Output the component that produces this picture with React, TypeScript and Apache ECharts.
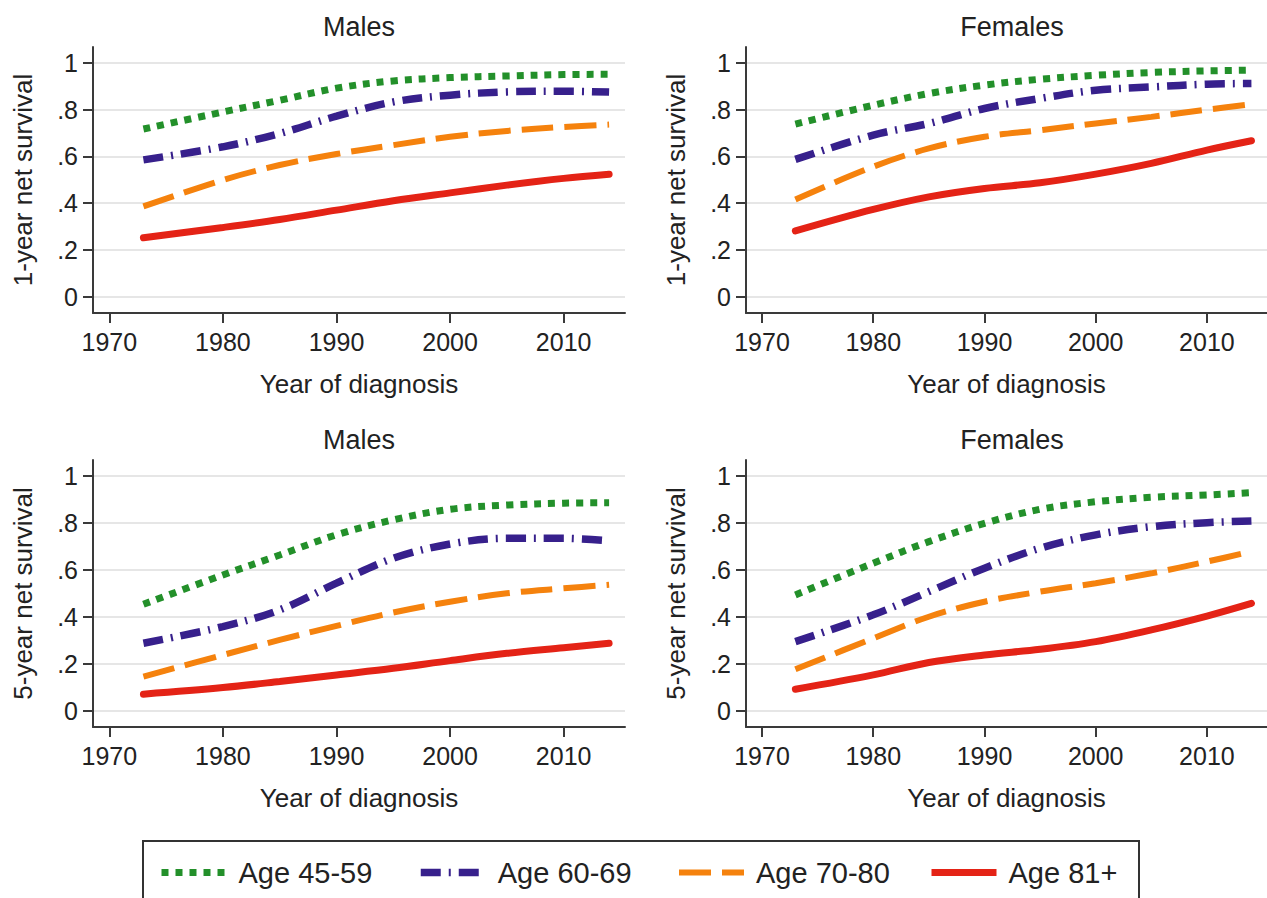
import React, { useEffect, useRef } from "react";
import * as echarts from "echarts";

const FONT = "'Liberation Sans', Arial, Helvetica, sans-serif";
const TEXT = "#222222";
const AXIS = "#3a3a3a";

const years = [1973, 1980, 1985, 1990, 1995, 2000, 2005, 2010, 2014];
const xTicks = [1970, 1980, 1990, 2000, 2010];
const yTicks = [0, 0.2, 0.4, 0.6, 0.8, 1];
const yTickLabels = ["0", ".2", ".4", ".6", ".8", "1"];

const groupNames = ["Age 45-59", "Age 60-69", "Age 70-80", "Age 81+"];
const panelTitles = ["Males", "Females", "Males", "Females"];
const yNames = ["1-year net survival", "1-year net survival", "5-year net survival", "5-year net survival"];

// Males, 1-year
const m1_4559 = [0.717, 0.79, 0.84, 0.892, 0.923, 0.937, 0.944, 0.95, 0.951];
const m1_6069 = [0.585, 0.641, 0.698, 0.772, 0.833, 0.862, 0.876, 0.879, 0.875];
const m1_7080 = [0.386, 0.499, 0.563, 0.61, 0.648, 0.684, 0.709, 0.726, 0.736];
const m1_81 = [0.252, 0.296, 0.33, 0.37, 0.41, 0.444, 0.477, 0.506, 0.524];
// Females, 1-year
const f1_4559 = [0.738, 0.819, 0.869, 0.905, 0.93, 0.947, 0.959, 0.966, 0.969];
const f1_6069 = [0.587, 0.691, 0.741, 0.805, 0.848, 0.883, 0.897, 0.909, 0.912];
const f1_7080 = [0.416, 0.556, 0.634, 0.684, 0.712, 0.741, 0.769, 0.8, 0.823];
const f1_81 = [0.281, 0.373, 0.427, 0.463, 0.487, 0.524, 0.57, 0.627, 0.667];
// Males, 5-year
const m5_4559 = [0.453, 0.578, 0.663, 0.749, 0.813, 0.858, 0.876, 0.884, 0.886];
const m5_6069 = [0.287, 0.358, 0.429, 0.543, 0.649, 0.71, 0.734, 0.734, 0.724];
const m5_7080 = [0.145, 0.237, 0.301, 0.361, 0.418, 0.464, 0.5, 0.521, 0.536];
const m5_81 = [0.07, 0.098, 0.124, 0.152, 0.18, 0.213, 0.244, 0.268, 0.287];
// Females, 5-year
const f5_4559 = [0.493, 0.628, 0.72, 0.798, 0.858, 0.89, 0.909, 0.919, 0.929];
const f5_6069 = [0.294, 0.408, 0.507, 0.607, 0.692, 0.749, 0.784, 0.801, 0.808];
const f5_7080 = [0.176, 0.308, 0.4, 0.464, 0.507, 0.543, 0.585, 0.635, 0.678];
const f5_81 = [0.091, 0.152, 0.205, 0.237, 0.261, 0.294, 0.344, 0.403, 0.457];

const panelData = [
  [m1_4559, m1_6069, m1_7080, m1_81],
  [f1_4559, f1_6069, f1_7080, f1_81],
  [m5_4559, m5_6069, m5_7080, m5_81],
  [f5_4559, f5_6069, f5_7080, f5_81],
];

const styles = [
  { color: "#23902a", width: 7, type: [7, 7] as number[], cap: "butt" },
  { color: "#37208c", width: 7.5, type: [20, 8, 2, 8] as number[], cap: "butt" },
  { color: "#f5820d", width: 6, type: [32, 11] as number[], cap: "butt" },
  { color: "#e42316", width: 7, type: "solid" as any, cap: "round" },
];

const grids = [
  { left: 93, top: 47, width: 532, height: 266 },
  { left: 746, top: 47, width: 532, height: 266 },
  { left: 93, top: 460, width: 532, height: 267 },
  { left: 746, top: 460, width: 532, height: 267 },
];

const legendX = [158, 417, 676, 928];

export default function App() {
  const ref = useRef<HTMLDivElement>(null);
  useEffect(() => {
    if (!ref.current) return;
    const chart = echarts.init(ref.current, null, { renderer: "svg" });

    const xAxis = grids.map((_, i) => ({
      type: "value",
      gridIndex: i,
      min: 1968.56,
      max: 2015.4,
      axisLine: { show: true, onZero: false, lineStyle: { color: AXIS, width: 2 } },
      axisTick: { show: true, length: 10, customValues: xTicks, lineStyle: { color: AXIS, width: 2 } },
      axisLabel: {
        customValues: xTicks,
        fontSize: 25,
        color: TEXT,
        margin: 16,
        fontFamily: FONT,
        formatter: (v: number) => String(Math.round(v)),
      },
      splitLine: { show: false },
      name: "Year of diagnosis",
      nameLocation: "middle",
      nameGap: 58,
      nameTextStyle: { fontSize: 26, color: TEXT, fontFamily: FONT },
    }));

    const yAxis = grids.map((_, i) => ({
      type: "value",
      gridIndex: i,
      min: -0.07,
      max: 1.068,
      axisLine: { show: true, onZero: false, lineStyle: { color: AXIS, width: 2 } },
      axisTick: { show: true, length: 10, customValues: yTicks, lineStyle: { color: AXIS, width: 2 } },
      axisLabel: {
        customValues: yTicks,
        fontSize: 25,
        color: TEXT,
        margin: 15,
        fontFamily: FONT,
        formatter: (v: number) => {
          const idx = yTicks.findIndex((t) => Math.abs(t - v) < 1e-6);
          return idx >= 0 ? yTickLabels[idx] : "";
        },
      },
      splitLine: { show: true, lineStyle: { color: "#e6e6e6", width: 2 } },
      name: yNames[i],
      nameLocation: "middle",
      nameGap: 57,
      nameRotate: 90,
      nameTextStyle: { fontSize: 26, color: TEXT, fontFamily: FONT },
    }));

    const series: any[] = [];
    panelData.forEach((groups, p) => {
      groups.forEach((vals, g) => {
        const st = styles[g];
        series.push({
          type: "line",
          name: groupNames[g],
          xAxisIndex: p,
          yAxisIndex: p,
          data: years.map((y, k) => [y, vals[k]]),
          smooth: 0.35,
          symbol: "none",
          showSymbol: false,
          lineStyle: { color: st.color, width: st.width, type: st.type, cap: st.cap },
          itemStyle: { color: st.color },
          z: 10 - g,
        });
      });
    });

    const legends = groupNames.map((n, g) => ({
      show: true,
      left: legendX[g],
      top: 858,
      padding: 0,
      itemWidth: 65,
      itemHeight: 14,
      selectedMode: false,
      data: [{ name: n }],
      itemStyle: { color: "rgba(0,0,0,0)", borderWidth: 0, opacity: 0 },
      lineStyle: { width: styles[g].width, type: styles[g].type, cap: "butt" },
      textStyle: { fontSize: 29, color: TEXT, fontFamily: FONT, padding: [0, 0, 0, 7] },
    }));

    const graphic: any[] = [
      {
        type: "rect",
        shape: { x: 143, y: 841, width: 996, height: 80 },
        style: { fill: "none", stroke: "#333", lineWidth: 2 },
        silent: true,
      },
    ];
    grids.forEach((gr, i) => {
      graphic.push({
        type: "text",
        x: gr.left + gr.width / 2,
        y: i < 2 ? 27 : 440,
        style: {
          text: panelTitles[i],
          fontSize: 27,
          fill: TEXT,
          fontFamily: FONT,
          align: "center",
          verticalAlign: "middle",
        },
      });
    });

    chart.setOption({
      animation: false,
      backgroundColor: "#ffffff",
      grid: grids.map((g) => ({ ...g, containLabel: false })),
      xAxis,
      yAxis,
      series,
      legend: legends,
      graphic,
    } as any);

    return () => chart.dispose();
  }, []);

  return (
    <div
      ref={ref}
      style={{ position: "absolute", left: 0, top: 0, width: 1267, height: 898, background: "#fff" }}
    />
  );
}
